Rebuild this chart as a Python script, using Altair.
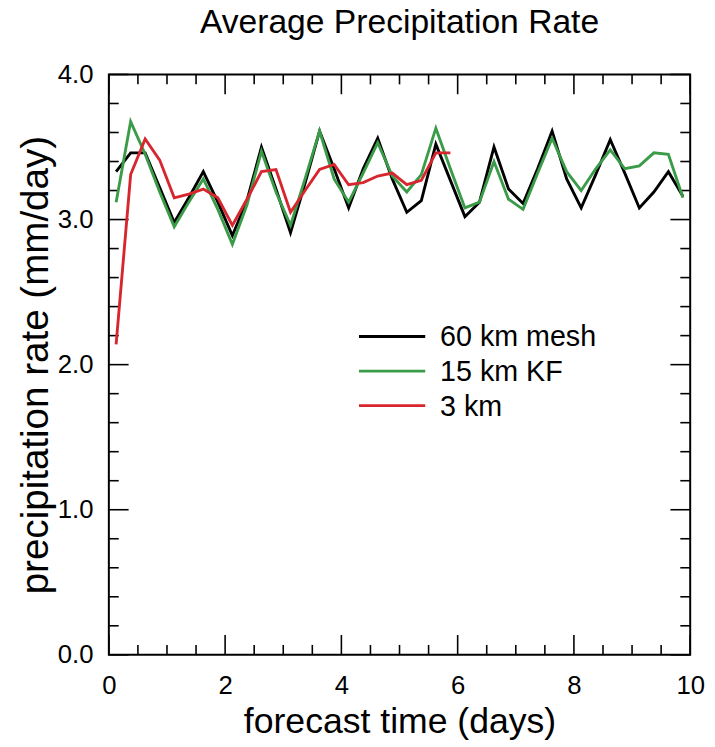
import altair as alt
import pandas as pd

series_names = ["60 km mesh", "15 km KF", "3 km"]
series_colors = ["#000000", "#3a9b48", "#d8262e"]

days = [0.125 + 0.25 * i for i in range(40)]

mesh60 = [3.33, 3.46, 3.46, 3.22, 2.98, 3.15, 3.33, 3.12, 2.89, 3.13,
          3.50, 3.21, 2.91, 3.25, 3.61, 3.35, 3.08, 3.35, 3.56, 3.28,
          3.05, 3.13, 3.52, 3.27, 3.02, 3.12, 3.50, 3.21, 3.11, 3.35,
          3.61, 3.28, 3.08, 3.31, 3.55, 3.32, 3.08, 3.19, 3.33, 3.16]

kf15 = [3.12, 3.675, 3.45, 3.19, 2.95, 3.12, 3.28, 3.07, 2.83, 3.10,
        3.47, 3.19, 2.96, 3.28, 3.61, 3.28, 3.12, 3.32, 3.53, 3.30,
        3.19, 3.31, 3.63, 3.35, 3.08, 3.12, 3.40, 3.14, 3.07, 3.32,
        3.56, 3.33, 3.20, 3.35, 3.48, 3.35, 3.37, 3.46, 3.45, 3.15]

km3 = [2.14, 3.31, 3.555, 3.41, 3.15, 3.175, 3.21, 3.15, 2.96, 3.14,
       3.33, 3.345, 3.05, 3.20, 3.345, 3.38, 3.24, 3.255, 3.30, 3.32,
       3.24, 3.27, 3.46, 3.46]

x_major = [0, 2, 4, 6, 8, 10]
x_minor = [0.5, 1, 1.5, 2.5, 3, 3.5, 4.5, 5, 5.5, 6.5, 7, 7.5, 8.5, 9, 9.5]
y_major = [0, 1, 2, 3, 4]
y_minor = [0.2, 0.4, 0.6, 0.8, 1.2, 1.4, 1.6, 1.8, 2.2, 2.4, 2.6, 2.8,
           3.2, 3.4, 3.6, 3.8]

rows = []
for name, vals in zip(series_names, [mesh60, kf15, km3]):
    for i, v in enumerate(vals):
        rows.append({"series": name, "day": days[i], "rate": v, "order": i})
df = pd.DataFrame(rows)

W, H = 588, 587
FONT = "Liberation Sans"

xscale = alt.Scale(domain=[0, 10], nice=False, zero=False)
yscale = alt.Scale(domain=[0, 4], nice=False, zero=False)
cscale = alt.Scale(domain=series_names, range=series_colors)

xaxis = alt.Axis(values=x_major, format="d", title="forecast time (days)",
                 labelFlush=False, labelOverlap=False, labelPadding=18,
                 titlePadding=7, titleFontSize=36)
yaxis = alt.Axis(values=y_major, format=".1f", title="precipitation rate (mm/day)",
                 labelFlush=False, labelOverlap=False, labelPadding=16,
                 titlePadding=2, titleFontSize=39)

lines = alt.Chart(df).mark_line(strokeWidth=2.9).encode(
    x=alt.X("day:Q", scale=xscale, axis=xaxis),
    y=alt.Y("rate:Q", scale=yscale, axis=yaxis),
    color=alt.Color("series:N", scale=cscale, sort=series_names, legend=None),
    order=alt.Order("order:Q"),
)


def xticks(vals, length, top):
    d = pd.DataFrame({"day": vals})
    if top:
        yy = alt.value(0)
        yy2 = alt.value(length)
    else:
        yy = alt.value(H)
        yy2 = alt.value(H - length)
    return alt.Chart(d).mark_rule(color="#000", strokeWidth=1.6).encode(
        x=alt.X("day:Q", scale=xscale, axis=xaxis), y=yy, y2=yy2)


def yticks(vals, length, right):
    d = pd.DataFrame({"rate": vals})
    if right:
        xx = alt.value(W)
        xx2 = alt.value(W - length)
    else:
        xx = alt.value(0)
        xx2 = alt.value(length)
    return alt.Chart(d).mark_rule(color="#000", strokeWidth=1.6).encode(
        y=alt.Y("rate:Q", scale=yscale, axis=yaxis), x=xx, x2=xx2)


tick_layers = [
    xticks(x_major, 20, False), xticks(x_minor, 10, False),
    xticks(x_major, 20, True), xticks(x_minor, 10, True),
    yticks(y_major, 20, False), yticks(y_minor, 10, False),
    yticks(y_major, 20, True), yticks(y_minor, 10, True),
]

# manual legend (inside the plot area)
LEG_X0, LEG_X1, LEG_TX, LEG_Y0, LEG_DY = 253, 320, 335, 265, 35
legend_layers = []
for i, name in enumerate(series_names):
    ld = pd.DataFrame({"series": [name]})
    ypix = LEG_Y0 + LEG_DY * i
    legend_layers.append(
        alt.Chart(ld).mark_rule(strokeWidth=2.9).encode(
            x=alt.value(LEG_X0), x2=alt.value(LEG_X1), y=alt.value(ypix),
            color=alt.Color("series:N", scale=cscale, legend=None))
    )
    legend_layers.append(
        alt.Chart(ld).mark_text(align="left", baseline="middle", font=FONT,
                                fontSize=29, color="#000").encode(
            x=alt.value(LEG_TX), y=alt.value(ypix + 1), text="series:N")
    )

chart = alt.layer(*tick_layers, lines, *legend_layers).properties(
    width=W, height=H,
    title=alt.TitleParams("Average Precipitation Rate", fontSize=34, font=FONT,
                          fontWeight="normal", color="#000", anchor="middle",
                          baseline="bottom", offset=20, dy=32),
    autosize=alt.AutoSizeParams(type="none"),
    padding={"left": 102, "top": 63, "right": 17, "bottom": 88},
).configure_view(
    stroke="#000", strokeWidth=2
).configure_axis(
    ticks=False, domain=False, grid=False,
    labelFont=FONT, labelFontSize=26, labelColor="#000",
    titleFont=FONT, titleColor="#000", titleFontWeight="normal",
)

chart.save("out.html", embed_options={"renderer": "svg", "actions": False})
